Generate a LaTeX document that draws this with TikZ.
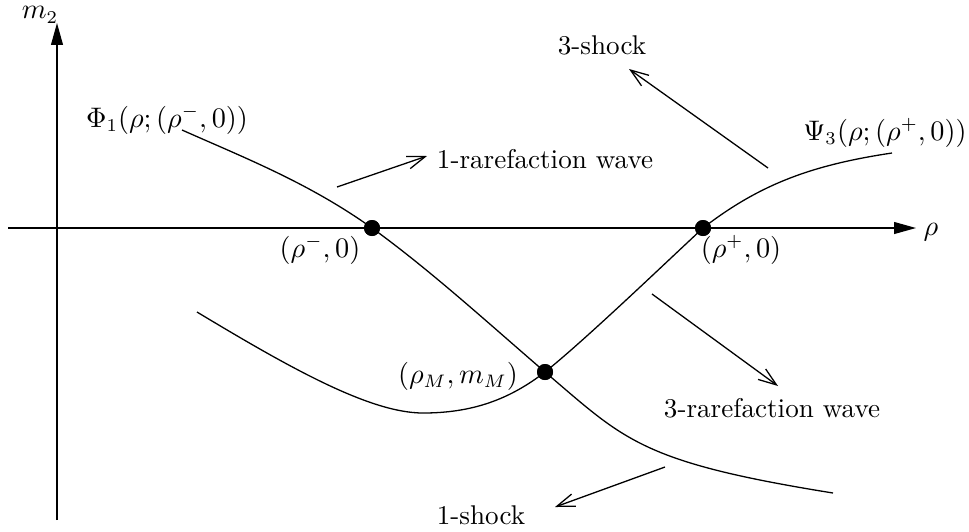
\documentclass[tikz,border=0pt]{standalone}
\usetikzlibrary{arrows.meta}
\begin{document}
\begin{tikzpicture}[x=0.3876pt,y=-0.3876pt,
  curve/.style={line width=0.5pt,line join=round},
  axis/.style={line width=0.5pt,-{Triangle[length=8.5pt,width=4.6pt]}},
  wavearrow/.style={line width=0.5pt,-{Straight Barb[length=7pt,width=5pt,line width=0.5pt]}},
  dot/.style={circle,fill=black,inner sep=0pt,minimum size=6.2pt},
  lbl/.style={inner sep=0pt,font=\fontsize{10.5pt}{12.5pt}\selectfont}]
\useasboundingbox (0,0) rectangle (969,531);
% axes
\coordinate (xs) at (8,228);
\coordinate (xe) at (916,228);
\coordinate (ys) at (57,520);
\coordinate (ye) at (57,23);
\draw[axis] (xs) -- (xe);
\draw[axis] (ys) -- (ye);
\node[lbl] (m2) at (40,15) {$m_2$};
\node[lbl] (rho) at (931,232) {$\rho$};
% points
\node[dot] (pm) at (372,228) {};
\node[dot] (pp) at (703,228) {};
\node[dot] (pM) at (545,372) {};
% curves
\coordinate (c1s) at (182,130);
\coordinate (c1e) at (833,493);
\coordinate (c2s) at (197,312);
\coordinate (c2m) at (423,413);
\coordinate (c2e) at (892,153);
\draw[curve] (c1s) .. controls (245,158) and (309,183) .. (pm.center)
  .. controls (430,270) and (487,322) .. (pM.center)
  .. controls (625,440) and (640,462) .. (c1e);
\draw[curve] (c2s) .. controls (290,368) and (370,413) .. (c2m)
  .. controls (473,413) and (510,399) .. (pM.center)
  .. controls (585,340) and (660,268) .. (pp.center)
  .. controls (760,184) and (812,165) .. (c2e);
% redraw dots on top
\node[dot] at (pm) {};
\node[dot] at (pp) {};
\node[dot] at (pM) {};
% labels
\node[lbl] (lpm) at (320,250) {$(\rho^-,0)$};
\node[lbl] (lpp) at (741,250) {$(\rho^+,0)$};
\node[lbl] (lpM) at (458,376) {$(\rho_M,m_M)$};
\node[lbl] (phi) at (167,120) {$\Phi_1(\rho;(\rho^-,0))$};
\node[lbl] (psi) at (885,133) {$\Psi_3(\rho;(\rho^+,0))$};
% wave arrows
\coordinate (a1s) at (337,187); \coordinate (a1e) at (427,156);
\coordinate (a2s) at (768,168); \coordinate (a2e) at (629,69);
\coordinate (a3s) at (652,294); \coordinate (a3e) at (778,386);
\coordinate (a4s) at (665,467); \coordinate (a4e) at (555,507);
\draw[wavearrow] (a1s) -- (a1e);
\draw[wavearrow] (a2s) -- (a2e);
\draw[wavearrow] (a3s) -- (a3e);
\draw[wavearrow] (a4s) -- (a4e);
\node[lbl] (t1r) at (545,159) {1-rarefaction wave};
\node[lbl] (t3s) at (602,45) {3-shock};
\node[lbl] (t3r) at (772,408) {3-rarefaction wave};
\node[lbl] (t1s) at (481,515) {1-shock};
\end{tikzpicture}
\end{document}
